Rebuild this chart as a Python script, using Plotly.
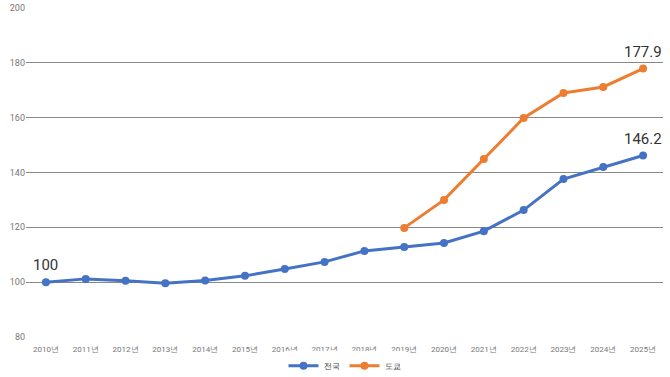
import plotly.graph_objects as go

years = [f"{y}년" for y in range(2010, 2026)]
national = [100, 101.2, 100.5, 99.6, 100.6, 102.3, 104.8, 107.4, 111.4, 112.8, 114.3, 118.6, 126.3, 137.6, 142.0, 146.2]
tokyo_years = [f"{y}년" for y in range(2019, 2026)]
tokyo = [119.8, 130.0, 144.9, 159.9, 169.0, 171.2, 177.9]
y_ticks = [80, 100, 120, 140, 160, 180, 200]

blue = "#4472C4"
orange = "#ED7D31"

fig = go.Figure()
fig.add_trace(go.Scatter(
    x=years, y=national, name="전국", mode="lines+markers",
    line=dict(color=blue, width=3), marker=dict(size=8, color=blue),
))
fig.add_trace(go.Scatter(
    x=tokyo_years, y=tokyo, name="도쿄", mode="lines+markers",
    line=dict(color=orange, width=3), marker=dict(size=8, color=orange),
))

for xv, yv, txt in [(years[0], national[0], "100"),
                    (years[-1], national[-1], f"{national[-1]:.1f}"),
                    (tokyo_years[-1], tokyo[-1], f"{tokyo[-1]:.1f}")]:
    fig.add_annotation(x=xv, y=yv, text=txt, showarrow=False, yshift=17,
                       font=dict(size=15, color="#333333", family="Roboto, Arial, sans-serif"))

fig.update_layout(
    width=670, height=377,
    margin=dict(l=26, r=7, t=8, b=40, autoexpand=False),
    paper_bgcolor="white", plot_bgcolor="white",
    font=dict(family="Roboto, Arial, sans-serif", color="#666666"),
    showlegend=True,
    legend=dict(orientation="h", x=0.5, xanchor="center", yref="container", y=0.03, yanchor="middle",
                font=dict(size=8, color="#444444"), itemwidth=30, tracegroupgap=0),
    xaxis=dict(type="category", categoryorder="array", categoryarray=years,
               range=[-0.5, 15.5], showgrid=False, zeroline=False, showline=False,
               tickfont=dict(size=8, color="#777777"), ticks="", automargin=False,
               ticklabelstandoff=6),
    yaxis=dict(range=[80, 200], tickvals=y_ticks, showgrid=True, gridcolor="#888888",
               gridwidth=1, zeroline=False, showline=False, automargin=False,
               tickfont=dict(size=9, color="#777777"), ticks="", ticklen=0),
)

fig.write_html("out.html", config={"displayModeBar": False},
               post_script="document.body.style.margin='0';document.body.style.padding='0';")
